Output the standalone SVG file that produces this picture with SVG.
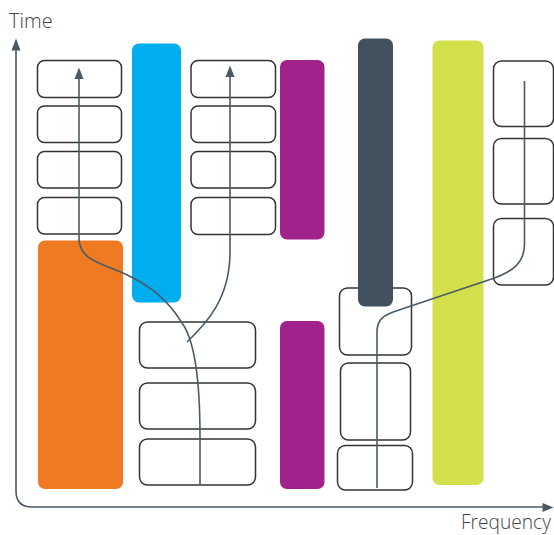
<svg xmlns="http://www.w3.org/2000/svg" width="554" height="535" viewBox="0 0 554 535">
  <style>
    .slot { fill: #ffffff; stroke: #333333; stroke-width: 1.5; }
    .bar { stroke: none; }
    .wire { fill: none; stroke: #4a5b67; stroke-width: 1.6; }
    .axis { fill: none; stroke: #4a5b67; stroke-width: 1.6; }
    .head { fill: #4a5b67; }
    .label { font-family: "Open Sans", "Liberation Sans", sans-serif; font-weight: 300; font-size: 20px; fill: #444444; }
  </style>

  <!-- axes -->
  <g id="axes">
    <path class="axis" d="M16,50 L16,491 Q16,507 32,507 L543,507"/>
    <path class="head" d="M16,38.5 L20.5,50.5 L11.5,50.5 Z"/>
    <path class="head" d="M553.5,507.5 L542.5,503 L542.5,512 Z"/>
    <text class="label" x="9" y="28">Time</text>
    <text class="label" x="461" y="529" font-size="19" textLength="90" lengthAdjust="spacingAndGlyphs">Frequency</text>
  </g>

  <!-- column 1 -->
  <g id="c1-s1"><rect class="slot" x="37.5" y="60.5" width="84" height="37" rx="7"/></g>
  <g id="c1-s2"><rect class="slot" x="37.5" y="106" width="84" height="36.5" rx="7"/></g>
  <g id="c1-s3"><rect class="slot" x="37.5" y="151.5" width="84" height="36.5" rx="7"/></g>
  <g id="c1-s4"><rect class="slot" x="37.5" y="197.5" width="84" height="36.5" rx="7"/></g>
  <g id="c1-orange"><rect class="bar" x="38" y="240.5" width="85" height="248.5" rx="7" fill="#ee7a22"/></g>

  <!-- column 2 -->
  <g id="c2-blue"><rect class="bar" x="132" y="43.5" width="49" height="259" rx="7" fill="#00aeef"/></g>
  <g id="c2-s1"><rect class="slot" x="139.5" y="322" width="116" height="46" rx="8"/></g>
  <g id="c2-s2"><rect class="slot" x="139.5" y="383" width="116" height="46" rx="8"/></g>
  <g id="c2-s3"><rect class="slot" x="139.5" y="439" width="116" height="46" rx="8"/></g>

  <!-- column 3 -->
  <g id="c3-s1"><rect class="slot" x="191" y="60.5" width="84.5" height="37" rx="7"/></g>
  <g id="c3-s2"><rect class="slot" x="191" y="106" width="84.5" height="36.5" rx="7"/></g>
  <g id="c3-s3"><rect class="slot" x="191" y="151.5" width="84.5" height="36.5" rx="7"/></g>
  <g id="c3-s4"><rect class="slot" x="191" y="197.5" width="84.5" height="37" rx="7"/></g>
  <g id="c3-purple-top"><rect class="bar" x="280" y="60" width="44.5" height="179.5" rx="7" fill="#a0228a"/></g>
  <g id="c3-purple-bottom"><rect class="bar" x="280" y="321" width="44.5" height="168" rx="7" fill="#a0228a"/></g>

  <!-- column 4 -->
  <g id="c4-s1"><rect class="slot" x="339.5" y="288" width="72" height="67" rx="8"/></g>
  <g id="c4-s2"><rect class="slot" x="340.5" y="363" width="70" height="77" rx="8"/></g>
  <g id="c4-s3"><rect class="slot" x="337.5" y="445.5" width="75" height="44.5" rx="8"/></g>
  <g id="c4-slate"><rect class="bar" x="358" y="38.5" width="35" height="268" rx="7" fill="#41525e"/></g>
  <g id="c4-lime"><rect class="bar" x="432.5" y="40.5" width="51" height="444.5" rx="7" fill="#d4e04b"/></g>

  <!-- column 5 -->
  <g id="c5-s1"><rect class="slot" x="493.5" y="61" width="60" height="65.5" rx="8"/></g>
  <g id="c5-s2"><rect class="slot" x="493.5" y="138.5" width="60" height="65.5" rx="8"/></g>
  <g id="c5-s3"><rect class="slot" x="493.5" y="218.5" width="60" height="66.5" rx="8"/></g>

  <!-- connectors -->
  <g id="connectors">
    <path class="wire" d="M200,485 L200,437 C200,385 196,342 182,323 C168,300 150,285 123,273 C96,262 79,258 79,238 L79,78"/>
    <path class="head" d="M79,67.5 L83.5,79 L74.5,79 Z"/>
    <path class="wire" d="M187,342 C207,323 230,298 230,252 L230,76"/>
    <path class="head" d="M230,65.5 L234.5,77 L225.5,77 Z"/>
    <path class="wire" d="M377,488 L377,332 C377,319 384,315 396,311 L493,278.5 C511,272 524.5,264 524.5,244 L524.5,81"/>
  </g>
</svg>
